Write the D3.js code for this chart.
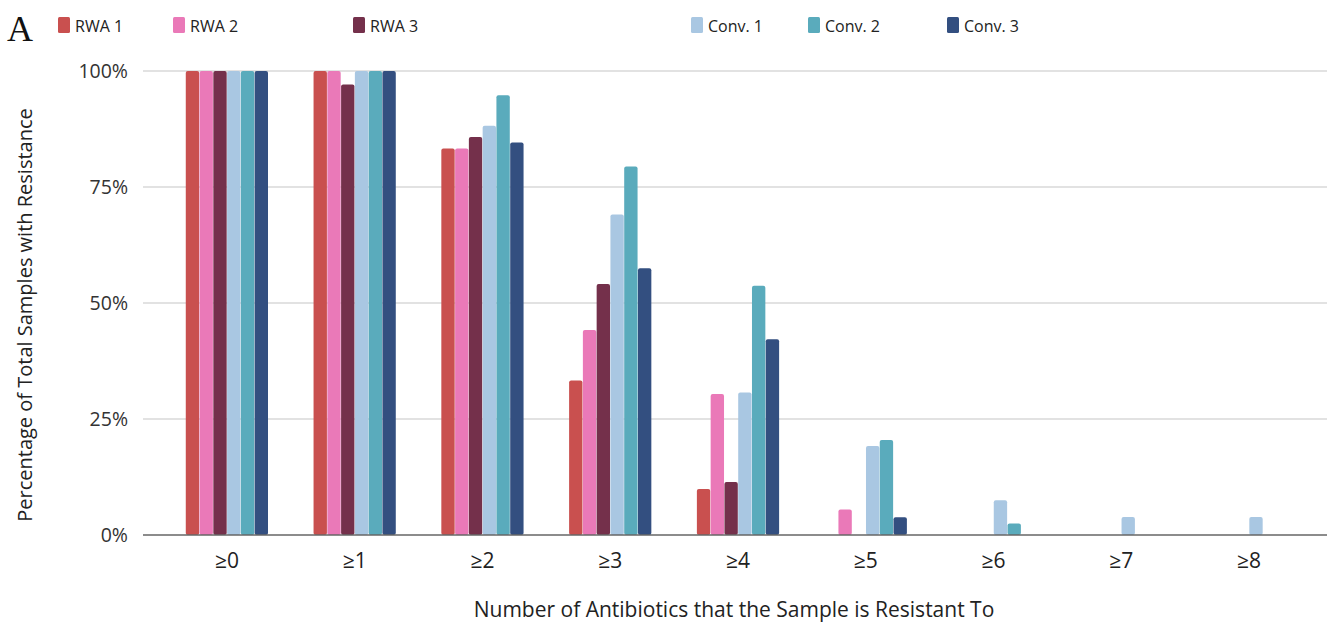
<!DOCTYPE html>
<html>
<head>
<meta charset="utf-8">
<script src="https://cdn.jsdelivr.net/npm/d3@7"></script>
<style>
body { margin: 0; background: #fff; }
svg { display: block; }
</style>
</head>
<body>
<svg id="chart" width="1339" height="629"></svg>
<script>
// categories on the x axis
var categories = ["≥0", "≥1", "≥2", "≥3", "≥4", "≥5", "≥6", "≥7", "≥8"];
var seriesNames = ["RWA 1", "RWA 2", "RWA 3", "Conv. 1", "Conv. 2", "Conv. 3"];
var seriesColors = ["#c9504f", "#ea79b8", "#74304b", "#a9c7e2", "#5aabbc", "#334f80"];

// percentage values, one array per series
var rwa1  = [100, 100, 83.3, 33.3, 9.9, 0, 0, 0, 0];
var rwa2  = [100, 100, 83.3, 44.2, 30.4, 5.5, 0, 0, 0];
var rwa3  = [100, 97.1, 85.8, 54.1, 11.4, 0, 0, 0, 0];
var conv1 = [100, 100, 88.2, 69.1, 30.7, 19.2, 7.5, 3.9, 3.9];
var conv2 = [100, 100, 94.8, 79.4, 53.7, 20.5, 2.5, 0, 0];
var conv3 = [100, 100, 84.6, 57.5, 42.2, 3.8, 0, 0, 0];
var yTicks = [0, 25, 50, 75, 100];

var allSeries = [rwa1, rwa2, rwa3, conv1, conv2, conv3];

var svg = d3.select("#chart");
var font = "'Open Sans', sans-serif";

// plot area (top is reserved on window, so use other names)
var plotLeft = 143, plotRight = 1327, plotTop = 71, plotBottom = 535;

var x0 = d3.scaleBand().domain(categories).range([163, 1313]).paddingInner(0.35).paddingOuter(0.175);
var x1 = d3.scaleBand().domain(seriesNames).range([0, x0.bandwidth()]).padding(0.03);
var y = d3.scaleLinear().domain([0, 100]).range([plotBottom, plotTop]);

// grid lines
svg.append("g").selectAll("line")
	.data(yTicks.filter(function(d){ return d > 0; }))
	.enter().append("line")
	.attr("x1", plotLeft).attr("x2", plotRight)
	.attr("y1", function(d){ return y(d); })
	.attr("y2", function(d){ return y(d); })
	.attr("stroke", "#d9d9d9").attr("stroke-width", 1.3);

// y tick labels
svg.append("g").selectAll("text")
	.data(yTicks)
	.enter().append("text")
	.attr("x", 128)
	.attr("y", function(d){ return y(d); })
	.attr("dy", "0.35em")
	.attr("text-anchor", "end")
	.attr("font-family", font).attr("font-size", 19.5).attr("fill", "#333")
	.text(function(d){ return d + "%"; });

// bars
var groups = svg.append("g").selectAll("g")
	.data(categories)
	.enter().append("g")
	.attr("transform", function(d){ return "translate(" + x0(d) + ",0)"; });

groups.selectAll("rect")
	.data(function(d, i) {
		return seriesNames.map(function(s, j) { return {name: s, value: allSeries[j][i], color: seriesColors[j]}; })
			.filter(function(b){ return b.value > 0; });
	})
	.enter().append("rect")
	.attr("x", function(d){ return x1(d.name); })
	.attr("y", function(d){ return y(d.value); })
	.attr("width", x1.bandwidth())
	.attr("height", function(d){ return plotBottom - y(d.value); })
	.attr("rx", 2)
	.attr("fill", function(d){ return d.color; });

// baseline
svg.append("line")
	.attr("x1", plotLeft).attr("x2", plotRight)
	.attr("y1", plotBottom).attr("y2", plotBottom)
	.attr("stroke", "#666").attr("stroke-width", 1.5);

// x tick labels
svg.append("g").selectAll("text")
	.data(categories)
	.enter().append("text")
	.attr("x", function(d){ return x0(d) + x0.bandwidth() / 2; })
	.attr("y", 561)
	.attr("dy", "0.35em")
	.attr("text-anchor", "middle")
	.attr("font-family", font).attr("font-size", 21).attr("fill", "#222")
	.text(function(d){ return d; });

// axis titles
svg.append("text")
	.attr("x", 734).attr("y", 617)
	.attr("text-anchor", "middle")
	.attr("font-family", font).attr("font-size", 21).attr("fill", "#222")
	.text("Number of Antibiotics that the Sample is Resistant To");

svg.append("text")
	.attr("transform", "translate(32,315) rotate(-90)")
	.attr("text-anchor", "middle")
	.attr("font-family", font).attr("font-size", 20).attr("fill", "#222")
	.text("Percentage of Total Samples with Resistance");

// panel letter
svg.append("text")
	.attr("x", 7).attr("y", 41)
	.attr("font-family", "'Liberation Serif', serif").attr("font-size", 36).attr("fill", "#111")
	.text("A");

// legend
var legendX = [58, 173, 353, 691, 808, 947];
var legend = svg.append("g").selectAll("g")
	.data(seriesNames)
	.enter().append("g")
	.attr("transform", function(d, i){ return "translate(" + legendX[i] + ",17)"; });
legend.append("rect")
	.attr("width", 12).attr("height", 16).attr("rx", 1.5)
	.attr("fill", function(d, i){ return seriesColors[i]; });
legend.append("text")
	.attr("x", 17).attr("y", 9).attr("dy", "0.35em")
	.attr("font-family", font).attr("font-size", 16).attr("fill", "#222")
	.text(function(d){ return d; });
</script>
</body>
</html>
